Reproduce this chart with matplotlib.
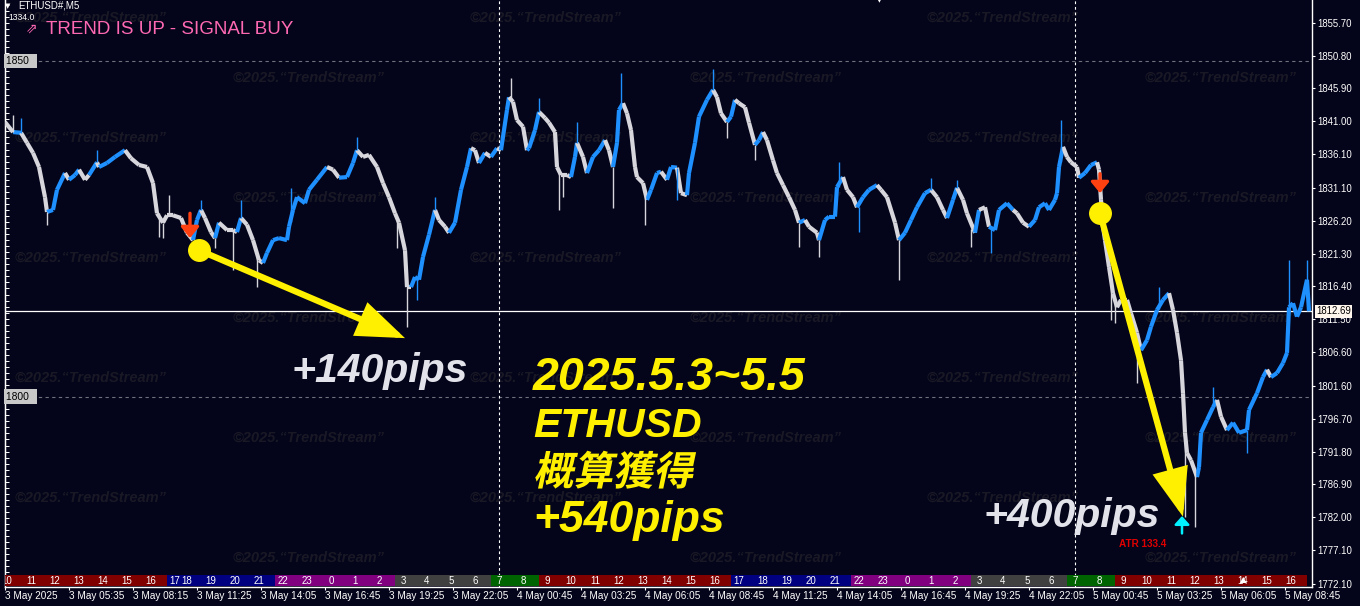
import numpy as np
import matplotlib
matplotlib.use("Agg")
import matplotlib.pyplot as plt
from matplotlib.collections import LineCollection
from matplotlib.patches import FancyArrowPatch, PathPatch, Rectangle
from matplotlib.textpath import TextPath
from matplotlib.font_manager import FontProperties
from matplotlib.transforms import Affine2D, blended_transform_factory

W, H = 1360, 606
BG = '#04041a'
BLUE = '#1e90ff'
GREY = '#d6d6dc'
YEL = '#fff000'

# ---- price path (M5 bar index, close) ----
bars = [0, 4, 8, 11, 14, 17, 20, 21, 24, 26, 30, 32, 35, 37, 40, 42, 46, 47, 51, 55,
        60, 63, 67, 71, 74, 76, 79, 81, 84, 88, 91, 94, 96, 98, 100, 103, 105, 107, 111, 114,
        116, 118, 121, 124, 127, 129, 131, 134, 137, 141, 142, 144, 146, 150, 152, 156, 161, 164, 167, 171,
        174, 176, 179, 182, 186, 189, 192, 195, 197, 200, 201, 203, 205, 207, 209, 212, 215, 217, 220, 222,
        225, 228, 231, 233, 235, 237, 240, 243, 246, 248, 251, 252, 254, 256, 259, 261, 262, 265, 267, 270,
        272, 275, 276, 278, 281, 283, 285, 286, 289, 291, 294, 297, 300, 302, 304, 306, 307, 309, 311, 313,
        315, 316, 319, 321, 323, 326, 328, 331, 333, 336, 338, 341, 342, 345, 347, 351, 354, 356, 358, 361,
        363, 365, 367, 370, 372, 375, 377, 379, 381, 384, 386, 389, 392, 395, 397, 400, 402, 406, 407, 410,
        412, 415, 416, 419, 421, 424, 426, 429, 432, 436, 438, 441, 445, 447, 450, 453, 456, 460, 463, 466,
        469, 471, 474, 476, 479, 481, 485, 487, 490, 492, 495, 497, 501, 504, 506, 509, 512, 515, 517, 520,
        522, 525, 526, 527, 529, 531, 533, 536, 537, 540, 543, 546, 547, 548, 549, 550, 552, 554, 556, 558,
        561, 563, 566, 568, 571, 573, 576, 579, 582, 584, 586, 588, 589, 590, 591, 593, 596, 597, 598, 601,
        604, 606, 608, 611, 614, 617, 621, 622, 626, 629, 631, 633, 636, 639, 641, 642, 644, 646, 648, 651,
        652]
closes = [1840.9, 1839.4, 1839.3, 1837.8, 1836.3, 1834.2, 1829.7, 1827.5, 1827.8, 1830.8,
          1833.3, 1832.3, 1833.0, 1833.8, 1832.3, 1833.0, 1834.9, 1834.2, 1834.8, 1835.7,
          1836.7, 1835.5, 1834.5, 1834.2, 1831.8, 1827.3, 1825.9, 1827.0, 1827.0, 1826.6,
          1824.4, 1823.3, 1826.3, 1827.8, 1826.6, 1824.5, 1823.6, 1825.9, 1824.8, 1824.8,
          1824.5, 1826.6, 1825.6, 1823.3, 1820.3, 1819.9, 1821.4, 1823.3, 1823.6, 1823.3,
          1825.3, 1827.8, 1829.7, 1828.8, 1830.8, 1832.3, 1834.2, 1833.8, 1832.6, 1832.7,
          1834.8, 1836.7, 1835.7, 1836.0, 1834.2, 1831.8, 1829.7, 1827.3, 1825.9, 1821.8,
          1816.3, 1816.3, 1817.8, 1817.4, 1820.8, 1824.1, 1827.8, 1826.3, 1825.3, 1824.4,
          1825.9, 1830.8, 1834.2, 1837.0, 1836.7, 1834.8, 1836.3, 1835.7, 1837.0, 1836.7,
          1842.7, 1844.6, 1843.9, 1841.2, 1840.2, 1836.7, 1837.0, 1839.7, 1842.4, 1841.5,
          1840.8, 1839.4, 1834.2, 1833.0, 1833.0, 1832.7, 1835.7, 1837.8, 1835.7, 1833.3,
          1835.7, 1836.7, 1838.2, 1836.7, 1834.2, 1837.8, 1842.7, 1843.7, 1842.2, 1839.7,
          1834.2, 1832.7, 1831.8, 1829.3, 1830.8, 1833.3, 1833.5, 1832.3, 1834.2, 1834.1,
          1830.3, 1830.0, 1833.3, 1837.8, 1841.7, 1844.2, 1845.7, 1844.6, 1842.2, 1840.9,
          1841.7, 1844.2, 1843.7, 1843.1, 1840.8, 1837.5, 1838.2, 1839.4, 1838.2, 1835.2,
          1833.3, 1831.5, 1829.7, 1827.8, 1825.9, 1826.3, 1825.3, 1824.4, 1823.3, 1826.3,
          1826.8, 1826.8, 1831.2, 1832.7, 1830.8, 1829.7, 1828.2, 1829.7, 1830.8, 1831.5,
          1830.8, 1829.7, 1825.9, 1823.3, 1824.4, 1826.3, 1828.2, 1830.3, 1830.8, 1829.7,
          1827.8, 1826.6, 1829.3, 1831.1, 1829.3, 1827.3, 1824.4, 1827.8, 1828.2, 1825.3,
          1824.8, 1827.8, 1828.8, 1827.8, 1827.3, 1825.9, 1825.3, 1826.3, 1828.2, 1828.8,
          1827.8, 1829.3, 1830.3, 1834.2, 1837.2, 1835.7, 1834.9, 1834.2, 1832.6, 1833.3,
          1834.5, 1834.9, 1833.8, 1829.3, 1825.3, 1823.3, 1819.3, 1815.4, 1813.3, 1814.4,
          1814.4, 1812.4, 1809.5, 1806.9, 1808.4, 1810.4, 1812.9, 1814.4, 1815.4, 1812.9,
          1809.5, 1805.4, 1800.5, 1794.6, 1791.6, 1790.5, 1788.0, 1789.5, 1794.6, 1796.5,
          1798.4, 1799.5, 1797.0, 1795.0, 1796.1, 1794.6, 1795.0, 1798.0, 1800.5, 1802.9,
          1804.0, 1802.9, 1803.5, 1805.0, 1806.5, 1813.3, 1813.9, 1811.9, 1813.3, 1817.4,
          1812.7]
# b = trend-up (blue), w = trend-down (white)
trend = ("wwbwwwwwbb" "bwbbwwbwbb" "bwwwwwwwww" "wwbbwwwbww" "wbwwwwbbbb"
         "bbbbbbbwwb" "bbwwwwwwww" "wwbbbbbwww" "bbbbwwbwbw" "bbwwwwbbbw"
         "wwwwwwbbww" "bbbwwbbbww" "wwwwbbbwbb" "wwbbbbbwww" "bbwwwwbbww"
         "wwwwwbwwwb" "bbbbwwwbbb" "wwwwbbbbbw" "wwbbwwwbww" "bbbbwwwbbb"
         "bbbbbwwwwb" "bbwwwwwwww" "wwwwbbbbbw" "wwwwwwwbbb" "bbwwbbbbbb"
         "bwbbbbbbbb" "b")

# long wicks (bar, low, high)
wick_bar = [4, 8, 21, 46, 77, 79, 82, 98, 105, 114, 118, 126, 143, 176, 196, 201, 206, 215,
            253, 267, 277, 279, 286, 304, 308, 320, 336, 354, 361, 375, 397, 407, 417, 427,
            447, 463, 476, 483, 493, 528, 553, 555, 566, 577, 590, 595, 604, 621, 642, 651]
wick_lo = [1839.4, 1839.3, 1825.6, 1834.9, 1823.8, 1823.6, 1827.0, 1827.8, 1822.1, 1818.9,
           1826.6, 1816.3, 1826.0, 1836.7, 1822.1, 1810.4, 1814.4, 1827.8, 1844.2, 1842.4,
           1827.8, 1829.7, 1837.8, 1828.1, 1843.0, 1825.6, 1829.3, 1845.7, 1838.5, 1835.2,
           1822.3, 1820.8, 1831.2, 1824.5, 1817.4, 1830.8, 1831.1, 1822.3, 1821.4, 1835.0,
           1811.4, 1811.0, 1802.0, 1813.0, 1782.0, 1780.6, 1798.4, 1791.6, 1813.3, 1817.4]
wick_hi = [1842.0, 1841.5, 1827.5, 1836.7, 1827.3, 1825.9, 1830.0, 1829.3, 1823.6, 1824.8,
           1829.3, 1821.0, 1831.1, 1838.7, 1826.5, 1816.3, 1817.6, 1829.7, 1847.5, 1844.5,
           1833.5, 1833.0, 1840.9, 1834.2, 1848.2, 1830.5, 1834.1, 1848.8, 1840.9, 1837.5,
           1825.9, 1823.3, 1834.9, 1828.2, 1823.3, 1832.6, 1832.3, 1825.0, 1825.3, 1841.2,
           1817.0, 1814.4, 1809.5, 1816.3, 1794.6, 1789.0, 1801.4, 1795.0, 1820.3, 1820.3]

last_price = 1812.69
price_ticks = [1855.70, 1850.80, 1845.90, 1841.00, 1836.10, 1831.10, 1826.20, 1821.30, 1816.40,
               1811.50, 1806.60, 1801.60, 1796.70, 1791.80, 1786.90, 1782.00, 1777.10, 1772.10]
levels = [1850, 1800]
day_sep = [247, 535]
time_labels = ["3 May 2025", "3 May 05:35", "3 May 08:15", "3 May 11:25", "3 May 14:05",
               "3 May 16:45", "3 May 19:25", "3 May 22:05", "4 May 00:45", "4 May 03:25",
               "4 May 06:05", "4 May 08:45", "4 May 11:25", "4 May 14:05", "4 May 16:45",
               "4 May 19:25", "4 May 22:05", "5 May 00:45", "5 May 03:25", "5 May 06:05",
               "5 May 08:45"]
hour_labels = [10, 11, 12, 13, 14, 15, 16, 17, 18, 19, 20, 21, 22, 23, 0, 1, 2, 3, 4, 5, 6, 7, 8,
               9, 10, 11, 12, 13, 14, 15, 16, 17, 18, 19, 20, 21, 22, 23, 0, 1, 2, 3, 4, 5, 6, 7, 8,
               9, 10, 11, 12, 13, 14, 15, 16]

# trade signals: (bar, price) of entry dot and arrow tip
sell1 = (97, 1821.8, 200, 1808.7)
sell2 = (547.5, 1827.3, 589, 1782.1)
sell_arrows = [(92.5, 1827.3, 1823.6), (547.5, 1833.2, 1830.3)]


def hour_color(h):
    if 9 <= h <= 16:
        return '#800000'
    if 17 <= h <= 21:
        return '#000080'
    if h >= 22 or h <= 2:
        return '#800080'
    if 3 <= h <= 6:
        return '#404040'
    return '#006400'


plt.rcParams['font.family'] = ['Liberation Sans', 'DejaVu Sans']
fig = plt.figure(figsize=(W / 100, H / 100), dpi=100, facecolor=BG)
ax = fig.add_axes([5 / W, 19 / H, 1307 / W, 587 / H], facecolor=BG)
ax.set_xlim(0, 653.5)
ax.set_ylim(1771.62, 1859.08)


def fx(x):
    return x / W


def fy(y):
    return 1 - y / H


# watermarks
wm = '©2025.“TrendStream”'
for yy, xs in [(18, [15, 470, 927]), (78, [233, 690, 1145]), (138, [15, 470, 927]),
               (198, [233, 690, 1145]), (258, [15, 470, 927]), (318, [233, 690, 1145]),
               (378, [15, 470, 927]), (438, [233, 690, 1145]), (498, [15, 470, 927]),
               (558, [233, 690, 1145])]:
    for xx in xs:
        ax.text(fx(xx), fy(yy), wm, transform=fig.transFigure, fontsize=10.5, color='#191926',
                fontweight='bold', fontstyle='italic', ha='left', va='center', zorder=0.5)

# levels and day separators
for lv in levels:
    ax.axhline(lv, color='#70707c', lw=0.8, ls=(0, (3, 3)), zorder=1)
    ax.text(fx(6), lv, '%d  ' % lv, transform=blended_transform_factory(fig.transFigure, ax.transData),
            fontsize=7.4, color='black', va='center', ha='left', zorder=7,
            bbox=dict(boxstyle='square,pad=0.2', fc='#c8c8c8', ec='none'))
for d in day_sep:
    ax.axvline(d, color='white', lw=0.8, ls=(0, (2.5, 2.5)), zorder=1)
ax.axhline(last_price, color='white', lw=0.9, zorder=2)

# price path
pts = np.column_stack([bars, closes])
segs = np.stack([pts[:-1], pts[1:]], axis=1)
cols = [BLUE if t == 'b' else GREY for t in trend[1:]]
ax.add_collection(LineCollection(segs, colors=cols, linewidths=3.0, capstyle='butt', zorder=3))
idx = np.clip(np.searchsorted(bars, wick_bar), 0, len(bars) - 1)
wcols = [BLUE if trend[i] == 'b' else GREY for i in idx]
ax.vlines(wick_bar, wick_lo, wick_hi, colors=wcols, lw=1.0, zorder=3)

# hour bar
hb = blended_transform_factory(ax.transData, ax.transAxes)
b0 = -3
for i, h in enumerate(hour_labels):
    n = 6 if i == 7 else 12
    ax.add_patch(Rectangle((b0, 0.0017), n, 0.0187, transform=hb, fc=hour_color(h), ec='none', zorder=4))
    ax.text(b0 + 4, 0.011, str(h), transform=hb, fontsize=7, color='white', ha='center',
            va='center', zorder=5, clip_on=True)
    b0 += n

# signals
for bx, p0, p1 in sell_arrows:
    ax.add_patch(FancyArrowPatch((bx, p0), (bx, p1), arrowstyle='-|>,head_length=0.55,head_width=0.45',
                                 mutation_scale=12, lw=2.4, color='#ff4010', shrinkA=0, shrinkB=0, zorder=6))
for b1, p1, b2, p2 in [sell1, sell2]:
    ax.add_patch(FancyArrowPatch((b1, p1), (b2, p2), arrowstyle='-|>,head_length=1.2,head_width=0.45',
                                 mutation_scale=22, lw=4.5, color=YEL, shrinkA=0, shrinkB=0, zorder=6,
                                 joinstyle='miter'))
    ax.plot(b1, p1, 'o', ms=15.5, color=YEL, zorder=7)
ax.add_patch(FancyArrowPatch((588.5, 1779.6), (588.5, 1782.2), arrowstyle='-|>,head_length=0.5,head_width=0.45',
                             mutation_scale=10, lw=1.8, color='#00f0ff', shrinkA=0, shrinkB=0, zorder=6))
fig.text(fx(1143), fy(544), 'ATR 133.4', color='#e00000', fontsize=7.2, fontweight='bold',
         ha='center', va='center')

# axes styling
ax.spines['top'].set_visible(False)
for s in ['left', 'right', 'bottom']:
    ax.spines[s].set_color('white')
    ax.spines[s].set_linewidth(1.0)
ax.yaxis.tick_right()
ax.set_yticks(price_ticks)
ax.set_yticklabels(['%.2f' % v for v in price_ticks])
ax.tick_params(axis='y', colors='white', labelsize=6.9, length=2.5, width=0.8, pad=1.5)
ax.set_xticks(np.arange(len(time_labels)) * 32)
ax.set_xticklabels(time_labels, ha='left')
ax.tick_params(axis='x', colors='white', labelsize=7.2, length=2.5, width=0.8, pad=0.6)
sec = ax.secondary_yaxis('left')
sec.set_yticks(np.arange(1772, 1859, 0.9))
sec.tick_params(axis='y', direction='in', length=3, width=0.7, colors='white', labelleft=False)
sec.spines['left'].set_color('white')
ax.text(fx(1316), last_price, '1812.69', transform=blended_transform_factory(fig.transFigure, ax.transData),
        fontsize=6.9, color='black', va='center', ha='left', zorder=8,
        bbox=dict(boxstyle='square,pad=0.12', fc='#fff6ee', ec='none'), clip_on=False)

# header
fig.text(fx(5), fy(6), '▼', color='white', fontsize=5, va='center', family='DejaVu Sans')
fig.text(fx(18), fy(6), 'ETHUSD#,M5', color='white', fontsize=7, va='center')
fig.text(fx(8), fy(18), '1334.0', color='white', fontsize=6.2, va='center')
fig.text(fx(26), fy(29), '⇗', color='#ff69b4', fontsize=10, va='center', family='DejaVu Sans')
fig.text(fx(46), fy(30), 'TREND IS UP - SIGNAL BUY', color='#ff69b4', fontsize=13.5, va='center')
fig.text(fx(877), fy(1), '▼', color='white', fontsize=4.5, va='center', family='DejaVu Sans')
fig.text(fx(1240), fy(580), '▲', color='white', fontsize=6, va='center', family='DejaVu Sans')

# big annotation texts
big = dict(fontweight='bold', fontstyle='italic', va='baseline', ha='left', zorder=9)
fig.text(fx(292), fy(382), '+140pips', color='#e2e2ea', fontsize=29.5, **big)
fig.text(fx(983), fy(527), '+400pips', color='#e2e2ea', fontsize=29.5, **big)
fig.text(fx(533), fy(390), '2025.5.3~5.5', color=YEL, fontsize=33.5, **big)
fig.text(fx(533), fy(437), 'ETHUSD', color=YEL, fontsize=29.5, **big)
fig.text(fx(533), fy(532), '+540pips', color=YEL, fontsize=32, **big)
tp = TextPath((0, 0), '概算獲得', size=40, prop=FontProperties(family='Noto Sans CJK JP', weight='bold'))
tr = Affine2D().skew_deg(12, 0).translate(533, H - 485)
fig.add_artist(PathPatch(tp, transform=tr, fc=YEL, ec='none', zorder=9))

fig.savefig('out.png', dpi=100, facecolor=BG)
